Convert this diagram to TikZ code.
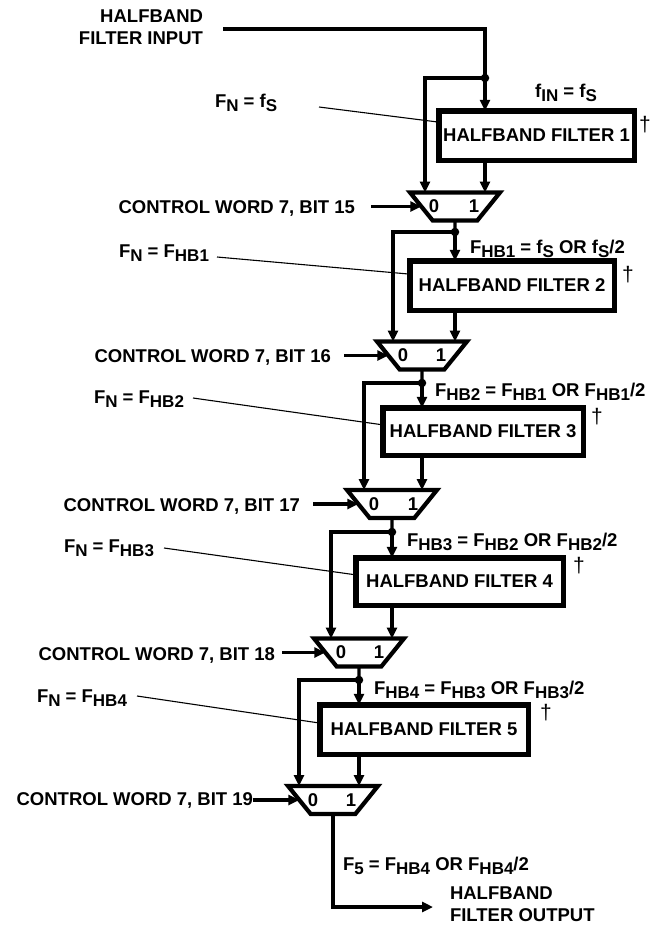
\documentclass[tikz,border=0pt]{standalone}
\usepackage{fontspec}
\setmainfont{Liberation Sans}
\usetikzlibrary{arrows.meta,shapes.geometric,calc}
\newcommand{\lsub}[1]{\raisebox{-4.5pt}{\fontsize{17}{17}\selectfont #1}}
\begin{document}
\begin{tikzpicture}[x=1pt,y=-1pt,
  every node/.style={font=\fontsize{18.5}{22}\selectfont\bfseries, inner sep=0pt, outer sep=0pt},
  dag/.style={font=\fontsize{21}{22}\selectfont\mdseries},
  wire/.style={line width=3.2pt},
  arr/.style={line width=3.2pt, -{Triangle[length=11pt,width=10pt]}},
  leader/.style={line width=1.1pt},
  filt/.style={draw, line width=5.5pt, rectangle},
  mux/.style={draw, line width=4.2pt, trapezium, shape border rotate=180, trapezium angle=67, trapezium stretches=true, minimum width=90pt, minimum height=28pt, inner sep=2pt},
  jdot/.style={circle, fill, minimum size=8.5pt},
]
\fill[white] (0,0) rectangle (662,927);
\useasboundingbox (0,0) rectangle (662,927);

% ---------- nodes ----------
\node[anchor=north east, align=right] (inp) at (203,10) {HALFBAND\\FILTER INPUT};
\coordinate (inA) at (223,29);

% stage 1
\node[jdot] (d1) at (485,78) {};
\node[filt, minimum width=195.5pt, minimum height=49.5pt] (b1) at (536.5,135.5) {HALFBAND FILTER 1};
\node[mux] (m1) at (455,206.5) {\phantom{0}};
\node (z1) at ([xshift=-21pt]m1.center) {0};
\node (o1) at ([xshift=19pt]m1.center) {1};
\node[anchor=base east] (c1) at (355,213) {CONTROL WORD 7, BIT 15};
\node[anchor=base west] (n1) at (215,107) {F\lsub{N} = f\lsub{S}};
\node[anchor=base] (f0) at (566,97) {f\lsub{IN} = f\lsub{S}};
\node[dag] (t1) at (645,125) {\char"2020};
\coordinate (l1) at (319,107);

% stage 2
\node[jdot] (d2) at (455,232) {};
\node[filt, minimum width=204.5pt, minimum height=49.5pt] (b2) at (512,285.5) {HALFBAND FILTER 2};
\node[mux] (m2) at (422,355.5) {\phantom{0}};
\node (z2) at ([xshift=-19pt]m2.center) {0};
\node (o2) at ([xshift=19pt]m2.center) {1};
\node[anchor=base east] (c2) at (331,362.5) {CONTROL WORD 7, BIT 16};
\node[anchor=base west] (n2) at (119,257) {F\lsub{N} = F\lsub{HB1}};
\node[anchor=base west] (f1) at (470,253) {F\lsub{HB1} = f\lsub{S} OR f\lsub{S}/2};
\node[dag] (t2) at (628,274.5) {\char"2020};
\coordinate (l2) at (217,257);

% stage 3
\node[jdot] (d3) at (422,383) {};
\node[filt, minimum width=200.5pt, minimum height=47.5pt] (b3) at (483,431.5) {HALFBAND FILTER 3};
\node[mux] (m3) at (392,504) {\phantom{0}};
\node (z3) at ([xshift=-18pt]m3.center) {0};
\node (o3) at ([xshift=21pt]m3.center) {1};
\node[anchor=base east] (c3) at (300,511) {CONTROL WORD 7, BIT 17};
\node[anchor=base west] (n3) at (94,403) {F\lsub{N} = F\lsub{HB2}};
\node[anchor=base west] (f2) at (435,396) {F\lsub{HB2} = F\lsub{HB1} OR F\lsub{HB1}/2};
\node[dag] (t3) at (597,417) {\char"2020};
\coordinate (l3) at (193,398);

% stage 4
\node[jdot] (d4) at (392,532) {};
\node[filt, minimum width=207.5pt, minimum height=47.5pt] (b4) at (459.5,581.5) {HALFBAND FILTER 4};
\node[mux] (m4) at (359,652.5) {\phantom{0}};
\node (z4) at ([xshift=-18pt]m4.center) {0};
\node (o4) at ([xshift=20pt]m4.center) {1};
\node[anchor=base east] (c4) at (275,660) {CONTROL WORD 7, BIT 18};
\node[anchor=base west] (n4) at (64,552) {F\lsub{N} = F\lsub{HB3}};
\node[anchor=base west] (f3) at (407,546) {F\lsub{HB3} = F\lsub{HB2} OR F\lsub{HB2}/2};
\node[dag] (t4) at (579,566) {\char"2020};
\coordinate (l4) at (164,548);

% stage 5
\node[jdot] (d5) at (359,680) {};
\node[filt, minimum width=208.5pt, minimum height=49.5pt] (b5) at (424,729.5) {HALFBAND FILTER 5};
\node[mux] (m5) at (333,800) {\phantom{0}};
\node (z5) at ([xshift=-20pt]m5.center) {0};
\node (o5) at ([xshift=18pt]m5.center) {1};
\node[anchor=base east] (c5) at (253,805) {CONTROL WORD 7, BIT 19};
\node[anchor=base west] (n5) at (37,702) {F\lsub{N} = F\lsub{HB4}};
\node[anchor=base west] (f4) at (374,694) {F\lsub{HB4} = F\lsub{HB3} OR F\lsub{HB3}/2};
\node[dag] (t5) at (546,713) {\char"2020};
\coordinate (l5) at (137,696);

% output
\node[anchor=base west] (f5) at (343,870) {F\lsub{5} = F\lsub{HB4} OR F\lsub{HB4}/2};
\coordinate (outTip) at (433,907);
\node[anchor=north west, align=left] (out) at (450,887) {HALFBAND\\FILTER OUTPUT};

% ---------- connectors ----------
\draw[wire] (inA) -| (d1.center);
\draw[arr] (d1.center) -- (b1.north -| d1);
\draw[arr] (d1.center) -| ([xshift=-30pt]m1.north);
\draw[arr] (b1.south -| d1) -- (m1.north -| d1);
\draw[wire] (m1.south) -- (d2.center);
\draw[arr] ([xshift=16pt]c1.east |- m1.west) -- (m1.west);
\draw[leader] (l1) -- ($(b1.north west)!0.23!(b1.south west)$);

\draw[arr] (d2.center) -- (b2.north -| d2);
\draw[arr] (d2.center) -| ([xshift=-29pt]m2.north);
\draw[arr] (b2.south -| d2) -- (m2.north -| d2);
\draw[wire] (m2.south) -- (d3.center);
\draw[arr] ([xshift=13pt]c2.east |- m2.west) -- (m2.west);
\draw[leader] (l2) -- ($(b2.north west)!0.27!(b2.south west)$);

\draw[arr] (d3.center) -- (b3.north -| d3);
\draw[arr] (d3.center) -| ([xshift=-28pt]m3.north);
\draw[arr] (b3.south -| d3) -- (m3.north -| d3);
\draw[wire] (m3.south) -- (d4.center);
\draw[arr] ([xshift=13pt]c3.east |- m3.west) -- (m3.west);
\draw[leader] (l3) -- ($(b3.north west)!0.36!(b3.south west)$);

\draw[arr] (d4.center) -- (b4.north -| d4);
\draw[arr] (d4.center) -| ([xshift=-28pt]m4.north);
\draw[arr] (b4.south -| d4) -- (m4.north -| d4);
\draw[wire] (m4.south) -- (d5.center);
\draw[arr] ([xshift=7pt]c4.east |- m4.west) -- (m4.west);
\draw[leader] (l4) -- ($(b4.north west)!0.36!(b4.south west)$);

\draw[arr] (d5.center) -- (b5.north -| d5);
\draw[arr] (d5.center) -| ([xshift=-34pt]m5.north);
\draw[arr] (b5.south -| d5) -- (m5.north -| d5);
\draw[arr] (c5.east |- m5.west) -- (m5.west);
\draw[leader] (l5) -- ($(b5.north west)!0.37!(b5.south west)$);

\draw[arr] (m5.south) |- (outTip);
\end{tikzpicture}
\end{document}
